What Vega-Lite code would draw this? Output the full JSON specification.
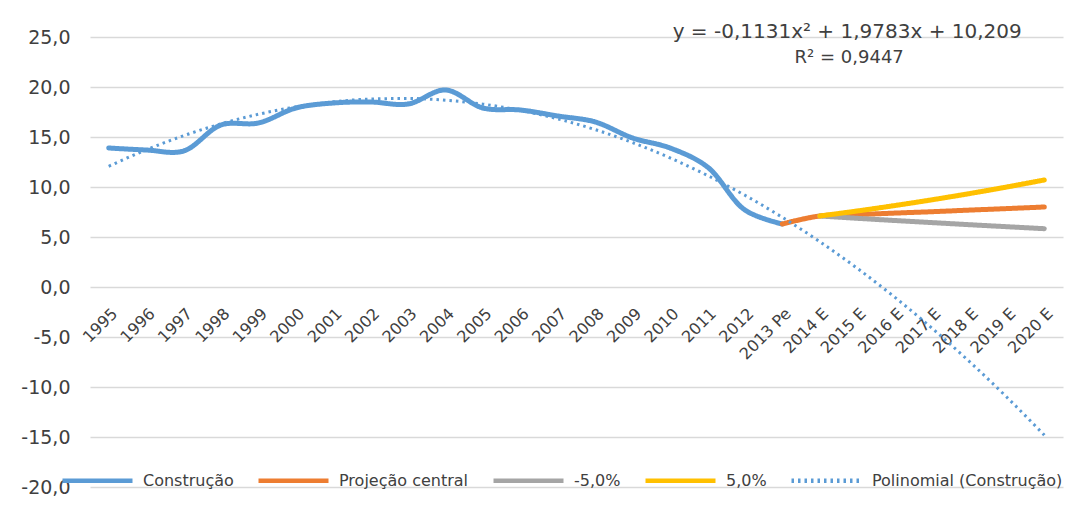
{
  "$schema": "https://vega.github.io/schema/vega-lite/v6.json",
  "width": 973,
  "height": 450,
  "autosize": "none",
  "padding": {"left": 90, "top": 37, "right": 9, "bottom": 20},
  "background": "white",
  "config": {
    "view": {"stroke": null},
    "font": "DejaVu Sans",
    "axis": {"labelFont": "DejaVu Sans", "labelColor": "#404040"},
    "legend": {"labelFont": "DejaVu Sans", "labelColor": "#404040"}
  },
  "data": {"values": [
    {"ano": "1995", "serie": "Construção", "v": 13.9},
    {"ano": "1996", "serie": "Construção", "v": 13.7},
    {"ano": "1997", "serie": "Construção", "v": 13.6},
    {"ano": "1998", "serie": "Construção", "v": 16.2},
    {"ano": "1999", "serie": "Construção", "v": 16.4},
    {"ano": "2000", "serie": "Construção", "v": 17.9},
    {"ano": "2001", "serie": "Construção", "v": 18.4},
    {"ano": "2002", "serie": "Construção", "v": 18.5},
    {"ano": "2003", "serie": "Construção", "v": 18.3},
    {"ano": "2004", "serie": "Construção", "v": 19.7},
    {"ano": "2005", "serie": "Construção", "v": 17.9},
    {"ano": "2006", "serie": "Construção", "v": 17.7},
    {"ano": "2007", "serie": "Construção", "v": 17.1},
    {"ano": "2008", "serie": "Construção", "v": 16.5},
    {"ano": "2009", "serie": "Construção", "v": 14.9},
    {"ano": "2010", "serie": "Construção", "v": 13.9},
    {"ano": "2011", "serie": "Construção", "v": 12.0},
    {"ano": "2012", "serie": "Construção", "v": 7.7},
    {"ano": "2013 Pe", "serie": "Construção", "v": 6.3},
    {"ano": "2013 Pe", "serie": "Projeção central", "v": 6.3},
    {"ano": "2014 E", "serie": "Projeção central", "v": 7.1},
    {"ano": "2015 E", "serie": "Projeção central", "v": 7.24},
    {"ano": "2016 E", "serie": "Projeção central", "v": 7.39},
    {"ano": "2017 E", "serie": "Projeção central", "v": 7.53},
    {"ano": "2018 E", "serie": "Projeção central", "v": 7.69},
    {"ano": "2019 E", "serie": "Projeção central", "v": 7.84},
    {"ano": "2020 E", "serie": "Projeção central", "v": 8.0},
    {"ano": "2014 E", "serie": "-5,0%", "v": 7.1},
    {"ano": "2015 E", "serie": "-5,0%", "v": 6.87},
    {"ano": "2016 E", "serie": "-5,0%", "v": 6.65},
    {"ano": "2017 E", "serie": "-5,0%", "v": 6.44},
    {"ano": "2018 E", "serie": "-5,0%", "v": 6.23},
    {"ano": "2019 E", "serie": "-5,0%", "v": 6.03},
    {"ano": "2020 E", "serie": "-5,0%", "v": 5.83},
    {"ano": "2014 E", "serie": "5,0%", "v": 7.1},
    {"ano": "2015 E", "serie": "5,0%", "v": 7.6},
    {"ano": "2016 E", "serie": "5,0%", "v": 8.14},
    {"ano": "2017 E", "serie": "5,0%", "v": 8.72},
    {"ano": "2018 E", "serie": "5,0%", "v": 9.34},
    {"ano": "2019 E", "serie": "5,0%", "v": 10.0},
    {"ano": "2020 E", "serie": "5,0%", "v": 10.7},
    {"ano": "1995", "serie": "Polinomial (Construção)", "v": 12.074},
    {"ano": "1996", "serie": "Polinomial (Construção)", "v": 13.713},
    {"ano": "1997", "serie": "Polinomial (Construção)", "v": 15.126},
    {"ano": "1998", "serie": "Polinomial (Construção)", "v": 16.313},
    {"ano": "1999", "serie": "Polinomial (Construção)", "v": 17.273},
    {"ano": "2000", "serie": "Polinomial (Construção)", "v": 18.007},
    {"ano": "2001", "serie": "Polinomial (Construção)", "v": 18.515},
    {"ano": "2002", "serie": "Polinomial (Construção)", "v": 18.797},
    {"ano": "2003", "serie": "Polinomial (Construção)", "v": 18.853},
    {"ano": "2004", "serie": "Polinomial (Construção)", "v": 18.682},
    {"ano": "2005", "serie": "Polinomial (Construção)", "v": 18.285},
    {"ano": "2006", "serie": "Polinomial (Construção)", "v": 17.662},
    {"ano": "2007", "serie": "Polinomial (Construção)", "v": 16.813},
    {"ano": "2008", "serie": "Polinomial (Construção)", "v": 15.738},
    {"ano": "2009", "serie": "Polinomial (Construção)", "v": 14.436},
    {"ano": "2010", "serie": "Polinomial (Construção)", "v": 12.908},
    {"ano": "2011", "serie": "Polinomial (Construção)", "v": 11.154},
    {"ano": "2012", "serie": "Polinomial (Construção)", "v": 9.174},
    {"ano": "2013 Pe", "serie": "Polinomial (Construção)", "v": 6.968},
    {"ano": "2014 E", "serie": "Polinomial (Construção)", "v": 4.535},
    {"ano": "2015 E", "serie": "Polinomial (Construção)", "v": 1.876},
    {"ano": "2016 E", "serie": "Polinomial (Construção)", "v": -1.009},
    {"ano": "2017 E", "serie": "Polinomial (Construção)", "v": -4.12},
    {"ano": "2018 E", "serie": "Polinomial (Construção)", "v": -7.457},
    {"ano": "2019 E", "serie": "Polinomial (Construção)", "v": -11.021},
    {"ano": "2020 E", "serie": "Polinomial (Construção)", "v": -14.811}
  ]},
  "encoding": {
    "x": {
      "field": "ano", "type": "ordinal",
      "scale": {"type": "point", "padding": 0.5, "domain": ["1995","1996","1997","1998","1999","2000","2001","2002","2003","2004","2005","2006","2007","2008","2009","2010","2011","2012","2013 Pe","2014 E","2015 E","2016 E","2017 E","2018 E","2019 E","2020 E"]},
      "axis": {"title": null, "offset": -200, "labelAngle": -45, "labelFontSize": 16, "domain": false, "ticks": false, "grid": false, "labelPadding": 18, "labelDx": 6}
    },
    "y": {
      "field": "v", "type": "quantitative",
      "scale": {"domain": [-20, 25], "nice": false, "zero": false},
      "axis": {"title": null, "values": [-20,-15,-10,-5,0,5,10,15,20,25], "domain": false, "ticks": false, "gridColor": "#d9d9d9", "gridWidth": 1.5, "labelFontSize": 19, "labelPadding": 20, "labelExpr": "replace(replace(format(datum.value, '.1f'), '.', ','), '\u2212', '-')"}
    },
    "color": {
      "field": "serie", "type": "nominal",
      "scale": {"domain": ["Construção", "Projeção central", "-5,0%", "5,0%", "Polinomial (Construção)"], "range": ["#5B9BD5", "#ED7D31", "#A5A5A5", "#FFC000", "#5B9BD5"]},
      "legend": {"title": null, "orient": "none", "legendX": -30, "legendY": 406, "direction": "horizontal", "symbolType": "stroke", "symbolSize": 4900, "symbolStrokeWidth": 4.5, "labelFontSize": 16, "labelOffset": 8, "columnPadding": 15, "labelLimit": 400}
    },
    "strokeDash": {
      "field": "serie", "type": "nominal",
      "scale": {"domain": ["Construção", "Projeção central", "-5,0%", "5,0%", "Polinomial (Construção)"], "range": [[1, 0], [1, 0], [1, 0], [1, 0], [2.5, 4]]},
      "legend": null
    }
  },
  "layer": [
    {
      "transform": [{"filter": "datum.serie !== 'Polinomial (Construção)'"}],
      "mark": {"type": "line", "strokeWidth": 5, "interpolate": "catmull-rom", "strokeCap": "round"}
    },
    {
      "transform": [{"filter": "datum.serie === 'Polinomial (Construção)'"}],
      "mark": {"type": "line", "strokeWidth": 3, "interpolate": "monotone"}
    },
    {
      "data": {"values": [
        {"ano": "2015 E", "v": 25.5, "t": "y = -0,1131x² + 1,9783x + 10,209"}
      ]},
      "mark": {"type": "text", "fontSize": 20, "color": "#404040", "baseline": "middle", "align": "center", "dx": -10},
      "encoding": {
        "x": {"field": "ano", "type": "ordinal"},
        "y": {"field": "v", "type": "quantitative"},
        "text": {"field": "t"},
        "color": null,
        "strokeDash": null
      }
    },
    {
      "data": {"values": [
        {"ano": "2015 E", "v": 22.9, "t": "R² = 0,9447"}
      ]},
      "mark": {"type": "text", "fontSize": 18, "color": "#404040", "baseline": "middle", "align": "center", "dx": -8},
      "encoding": {
        "x": {"field": "ano", "type": "ordinal"},
        "y": {"field": "v", "type": "quantitative"},
        "text": {"field": "t"},
        "color": null,
        "strokeDash": null
      }
    }
  ]
}
